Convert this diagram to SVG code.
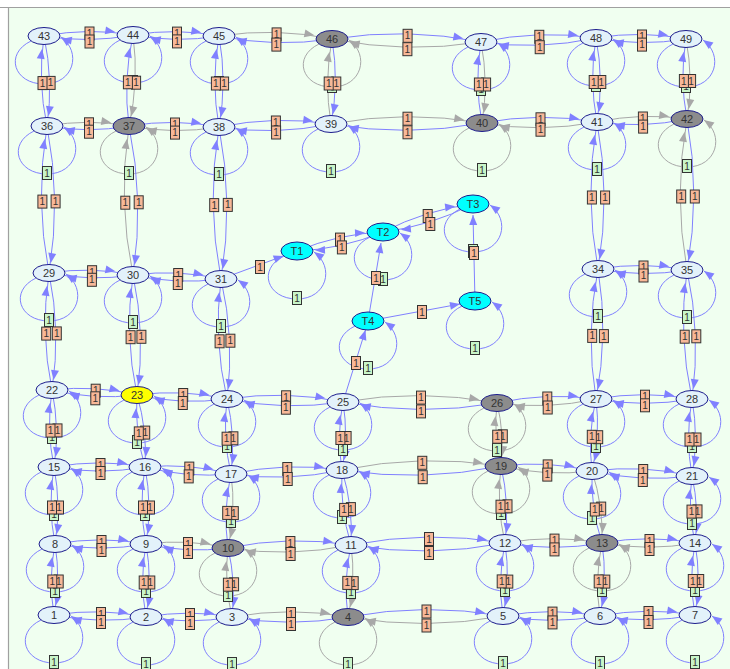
<svg xmlns="http://www.w3.org/2000/svg" width="730" height="669" viewBox="0 0 730 669">
<style>
.e{fill:none;stroke-width:1}
.hb,.db,.ub,.sb{stroke:#8080ff}
.hg,.dg,.ug{stroke:#a8a8a8}
.hb{marker-end:url(#ahb)}.hg{marker-end:url(#ahg)}
.db{marker-end:url(#adb)}.dg{marker-end:url(#adg)}
.ub{marker-end:url(#aub)}.ug{marker-end:url(#aug)}
.sb{marker-end:url(#a0b)}
.lo rect{fill:#f8b898;stroke:#333;stroke-width:1}
.lg rect{fill:#c8f5c8;stroke:#333;stroke-width:1}
.lo text,.lg text{font-family:"Liberation Sans",Arial,sans-serif;font-size:10px;fill:#333;text-anchor:middle}
.nd ellipse{fill:#e3f2fa;stroke:#1c1c8c;stroke-width:1}
.nd.gy ellipse{fill:#8c8c8c}
.nd.yl ellipse{fill:#ffff00}
.nd.cy ellipse{fill:#00ffff}
.nd text{font-family:"Liberation Sans",Arial,sans-serif;font-size:11px;fill:#333;text-anchor:middle}
</style>
<defs>
<marker id="ahb" markerUnits="userSpaceOnUse" markerWidth="10" markerHeight="8" refX="28" refY="4" orient="auto" overflow="visible"><path d="M0,0L10,4L0,8z" fill="#8080ff"/></marker>
<marker id="ahg" markerUnits="userSpaceOnUse" markerWidth="10" markerHeight="8" refX="28" refY="4" orient="auto" overflow="visible"><path d="M0,0L10,4L0,8z" fill="#a8a8a8"/></marker>
<marker id="adb" markerUnits="userSpaceOnUse" markerWidth="10" markerHeight="8" refX="20" refY="4" orient="auto" overflow="visible"><path d="M0,0L10,4L0,8z" fill="#8080ff"/></marker>
<marker id="adg" markerUnits="userSpaceOnUse" markerWidth="10" markerHeight="8" refX="20" refY="4" orient="auto" overflow="visible"><path d="M0,0L10,4L0,8z" fill="#a8a8a8"/></marker>
<marker id="aub" markerUnits="userSpaceOnUse" markerWidth="10" markerHeight="8" refX="23" refY="4" orient="auto" overflow="visible"><path d="M0,0L10,4L0,8z" fill="#8080ff"/></marker>
<marker id="aug" markerUnits="userSpaceOnUse" markerWidth="10" markerHeight="8" refX="23" refY="4" orient="auto" overflow="visible"><path d="M0,0L10,4L0,8z" fill="#a8a8a8"/></marker>
<marker id="a0b" markerUnits="userSpaceOnUse" markerWidth="10" markerHeight="8" refX="10" refY="4" orient="auto" overflow="visible"><path d="M0,0L10,4L0,8z" fill="#8080ff"/></marker>
<marker id="a0g" markerUnits="userSpaceOnUse" markerWidth="10" markerHeight="8" refX="10" refY="4" orient="auto" overflow="visible"><path d="M0,0L10,4L0,8z" fill="#a8a8a8"/></marker>
<path id="lpB" d="M-13,5C-40,18 -30,48 0,48C30,48 38,16 17,1" fill="none" stroke="#8080ff" marker-end="url(#a0b)"/>
<path id="lpG" d="M-13,5C-40,18 -30,48 0,48C30,48 38,16 17,1" fill="none" stroke="#a8a8a8" marker-end="url(#a0g)"/>
</defs>
<rect x="0" y="0" width="730" height="669" fill="#ffffff"/>
<rect x="8" y="7" width="722" height="662" fill="#f0fff0"/>
<path d="M0,7.5H730M8.5,7V669" fill="none" stroke="#a0a0a0" stroke-width="1.2"/>
<g id="connectors">
<g id="loops">
<use href="#lpB" x="54" y="615"/><use href="#lpB" x="146" y="617"/><use href="#lpB" x="232" y="617"/><use href="#lpG" x="348" y="617"/><use href="#lpB" x="503" y="616"/><use href="#lpB" x="600" y="616"/><use href="#lpB" x="695" y="615"/>
<use href="#lpB" x="55" y="544"/><use href="#lpB" x="146" y="544"/><use href="#lpG" x="228" y="548"/><use href="#lpB" x="351" y="545"/><use href="#lpB" x="505" y="543"/><use href="#lpG" x="602" y="543"/><use href="#lpB" x="695" y="543"/>
<use href="#lpB" x="54" y="467"/><use href="#lpB" x="145" y="467"/><use href="#lpB" x="231" y="474"/><use href="#lpB" x="342" y="470"/><use href="#lpG" x="501" y="466"/><use href="#lpB" x="592" y="471"/><use href="#lpB" x="692" y="476"/>
<use href="#lpB" x="52" y="390"/><use href="#lpB" x="137" y="395"/><use href="#lpB" x="227" y="399"/><use href="#lpB" x="343" y="402"/><use href="#lpG" x="497" y="403"/><use href="#lpB" x="596" y="399"/><use href="#lpB" x="692" y="399"/>
<use href="#lpB" x="49" y="273"/><use href="#lpB" x="133" y="275"/><use href="#lpB" x="221" y="279"/><use href="#lpB" x="598" y="269"/><use href="#lpB" x="687" y="270"/>
<use href="#lpB" x="47" y="126"/><use href="#lpG" x="129" y="126"/><use href="#lpB" x="219" y="127"/><use href="#lpB" x="331" y="124"/><use href="#lpG" x="482" y="123"/><use href="#lpB" x="597" y="122"/><use href="#lpG" x="687" y="119"/>
<use href="#lpB" x="44" y="36"/><use href="#lpB" x="133" y="35"/><use href="#lpB" x="219" y="36"/><use href="#lpG" x="332" y="39"/><use href="#lpB" x="481" y="42"/><use href="#lpB" x="596" y="38"/><use href="#lpB" x="686" y="39"/>
<use href="#lpB" x="297" y="251"/><use href="#lpB" x="383" y="232"/><use href="#lpB" x="473" y="204"/><use href="#lpB" x="368" y="321"/><use href="#lpB" x="475" y="301"/>
</g>
<g id="edges">
<path class="e hb" d="M54,615Q100.2,607.7 146,617"/><path class="e hb" d="M146,617Q99.8,624.3 54,615"/>
<path class="e hb" d="M146,617Q189,609.3 232,617"/><path class="e hb" d="M232,617Q189,624.7 146,617"/>
<path class="e hg" d="M232,617Q290,606.6 348,617"/><path class="e hb" d="M348,617Q290,627.4 232,617"/>
<path class="e hb" d="M348,617Q425.4,602.6 503,616"/><path class="e hg" d="M503,616Q425.6,630.5 348,617"/>
<path class="e hb" d="M503,616Q551.5,607.3 600,616"/><path class="e hb" d="M600,616Q551.5,624.7 503,616"/>
<path class="e hb" d="M600,616Q647.4,607 695,615"/><path class="e hb" d="M695,615Q647.6,624 600,616"/>
<path class="e hb" d="M55,544Q100.5,535.8 146,544"/><path class="e hb" d="M146,544Q100.5,552.2 55,544"/>
<path class="e hg" d="M146,544Q187.4,538.6 228,548"/><path class="e hb" d="M228,548Q186.6,553.4 146,544"/>
<path class="e hb" d="M228,548Q289.2,535.4 351,545"/><path class="e hg" d="M351,545Q289.8,557.6 228,548"/>
<path class="e hb" d="M351,545Q427.8,530.1 505,543"/><path class="e hb" d="M505,543Q428.2,557.9 351,545"/>
<path class="e hg" d="M505,543Q553.5,534.3 602,543"/><path class="e hb" d="M602,543Q553.5,551.7 505,543"/>
<path class="e hb" d="M602,543Q648.5,534.6 695,543"/><path class="e hg" d="M695,543Q648.5,551.4 602,543"/>
<path class="e hb" d="M54,467Q99.5,458.8 145,467"/><path class="e hb" d="M145,467Q99.5,475.2 54,467"/>
<path class="e hb" d="M145,467Q188.6,462.8 231,474"/><path class="e hb" d="M231,474Q187.4,478.2 145,467"/>
<path class="e hb" d="M231,474Q286.1,462 342,470"/><path class="e hb" d="M342,470Q286.9,482 231,474"/>
<path class="e hg" d="M342,470Q421.1,453.7 501,466"/><path class="e hb" d="M501,466Q421.9,482.3 342,470"/>
<path class="e hb" d="M501,466Q547,460.3 592,471"/><path class="e hg" d="M592,471Q546,476.7 501,466"/>
<path class="e hb" d="M592,471Q642.5,464.5 692,476"/><path class="e hb" d="M692,476Q641.6,482.5 592,471"/>
<path class="e hb" d="M52,390Q95,384.9 137,395"/><path class="e hb" d="M137,395Q94,400.2 52,390"/>
<path class="e hb" d="M137,395Q182.4,388.9 227,399"/><path class="e hb" d="M227,399Q181.6,405.1 137,395"/>
<path class="e hb" d="M227,399Q285.3,390.1 343,402"/><path class="e hb" d="M343,402Q284.7,410.9 227,399"/>
<path class="e hg" d="M343,402Q420.1,388.6 497,403"/><path class="e hb" d="M497,403Q419.9,416.4 343,402"/>
<path class="e hb" d="M497,403Q546.1,392.1 596,399"/><path class="e hg" d="M596,399Q546.9,409.9 497,403"/>
<path class="e hb" d="M596,399Q644,390.4 692,399"/><path class="e hb" d="M692,399Q644,407.6 596,399"/>
<path class="e hb" d="M49,273Q91.2,266.4 133,275"/><path class="e hb" d="M133,275Q90.8,281.6 49,273"/>
<path class="e hb" d="M133,275Q177.4,269.1 221,279"/><path class="e hb" d="M221,279Q176.6,284.9 133,275"/>
<path class="e hb" d="M598,269Q642.6,261.5 687,270"/><path class="e hb" d="M687,270Q642.4,277.5 598,269"/>
<path class="e hg" d="M47,126Q88,118.6 129,126"/><path class="e hb" d="M129,126Q88,133.4 47,126"/>
<path class="e hb" d="M129,126Q174.1,118.4 219,127"/><path class="e hg" d="M219,127Q173.9,134.6 129,126"/>
<path class="e hb" d="M219,127Q274.7,115.4 331,124"/><path class="e hb" d="M331,124Q275.3,135.6 219,127"/>
<path class="e hg" d="M331,124Q406.4,109.9 482,123"/><path class="e hb" d="M482,123Q406.6,137.1 331,124"/>
<path class="e hb" d="M482,123Q539.4,112.2 597,122"/><path class="e hg" d="M597,122Q539.6,132.9 482,123"/>
<path class="e hg" d="M597,122Q641.7,112.4 687,119"/><path class="e hb" d="M687,119Q642.3,128.6 597,122"/>
<path class="e hb" d="M44,36Q88.4,27.5 133,35"/><path class="e hb" d="M133,35Q88.6,43.5 44,36"/>
<path class="e hb" d="M133,35Q176.1,27.8 219,36"/><path class="e hb" d="M219,36Q175.9,43.2 133,35"/>
<path class="e hg" d="M219,36Q275.8,27.3 332,39"/><path class="e hb" d="M332,39Q275.2,47.7 219,36"/>
<path class="e hb" d="M332,39Q406.8,27.1 481,42"/><path class="e hg" d="M481,42Q406.2,53.9 332,39"/>
<path class="e hb" d="M481,42Q538.1,29.7 596,38"/><path class="e hb" d="M596,38Q538.9,50.4 481,42"/>
<path class="e hb" d="M596,38Q641.1,30.4 686,39"/><path class="e hb" d="M686,39Q640.9,46.6 596,38"/>
<path class="e db" d="M44,36Q53.6,80.7 47,126"/><path class="e ub" d="M47,126Q37.4,81.3 44,36"/>
<path class="e db" d="M47,126Q61.2,199.3 49,273"/><path class="e ub" d="M49,273Q34.8,199.7 47,126"/>
<path class="e db" d="M49,273Q61,331.2 52,390"/><path class="e ub" d="M52,390Q40,331.8 49,273"/>
<path class="e db" d="M52,390Q59.9,428.3 54,467"/><path class="e ub" d="M54,467Q46.1,428.7 52,390"/>
<path class="e db" d="M54,467Q61.4,505.4 55,544"/><path class="e ub" d="M55,544Q47.6,505.6 54,467"/>
<path class="e db" d="M55,544Q60.9,579.6 54,615"/><path class="e ub" d="M54,615Q48.1,579.4 55,544"/>
<path class="e dg" d="M133,35Q139.2,80.9 129,126"/><path class="e ub" d="M129,126Q122.8,80.1 133,35"/>
<path class="e db" d="M129,126Q144.4,200.1 133,275"/><path class="e ug" d="M133,275Q117.6,200.9 129,126"/>
<path class="e db" d="M133,275Q145.8,334.6 137,395"/><path class="e ub" d="M137,395Q124.2,335.4 133,275"/>
<path class="e db" d="M137,395Q147.5,430.3 145,467"/><path class="e ub" d="M145,467Q134.5,431.7 137,395"/>
<path class="e db" d="M145,467Q152.4,505.4 146,544"/><path class="e ub" d="M146,544Q138.6,505.6 145,467"/>
<path class="e db" d="M146,544Q152.6,580.5 146,617"/><path class="e ub" d="M146,617Q139.4,580.5 146,544"/>
<path class="e db" d="M219,36Q227.2,81.5 219,127"/><path class="e ub" d="M219,127Q210.8,81.5 219,36"/>
<path class="e db" d="M219,127Q233.7,202.8 221,279"/><path class="e ub" d="M221,279Q206.3,203.2 219,127"/>
<path class="e db" d="M221,279Q234.8,338.5 227,399"/><path class="e ub" d="M227,399Q213.2,339.5 221,279"/>
<path class="e db" d="M227,399Q235.8,436.1 231,474"/><path class="e ub" d="M231,474Q222.3,436.9 227,399"/>
<path class="e dg" d="M231,474Q236.2,511.3 228,548"/><path class="e ub" d="M228,548Q222.8,510.7 231,474"/>
<path class="e db" d="M228,548Q236.2,582.1 232,617"/><path class="e ug" d="M232,617Q223.8,582.9 228,548"/>
<path class="e db" d="M332,39Q339.2,81.6 331,124"/><path class="e ug" d="M331,124Q323.9,81.4 332,39"/>
<path class="e db" d="M343,402Q348.6,436.1 342,470"/><path class="e ub" d="M342,470Q336.4,435.9 343,402"/>
<path class="e db" d="M342,470Q353.3,506.7 351,545"/><path class="e ub" d="M351,545Q339.8,508.3 342,470"/>
<path class="e dg" d="M351,545Q356,581.3 348,617"/><path class="e ub" d="M348,617Q343,580.7 351,545"/>
<path class="e dg" d="M481,42Q488.8,82.4 482,123"/><path class="e ub" d="M482,123Q474.2,82.6 481,42"/>
<path class="e dg" d="M497,403Q504.7,434.1 501,466"/><path class="e ug" d="M501,466Q493.3,434.9 497,403"/>
<path class="e db" d="M501,466Q509.9,504.1 505,543"/><path class="e ug" d="M505,543Q496.1,504.9 501,466"/>
<path class="e db" d="M505,543Q510.6,579.7 503,616"/><path class="e ub" d="M503,616Q497.4,579.3 505,543"/>
<path class="e db" d="M596,38Q604.1,79.9 597,122"/><path class="e ub" d="M597,122Q588.9,80.1 596,38"/>
<path class="e db" d="M597,122Q610.7,195.4 598,269"/><path class="e ub" d="M598,269Q584.3,195.6 597,122"/>
<path class="e db" d="M598,269Q608.7,334.2 596,399"/><path class="e ub" d="M596,399Q585.3,333.8 598,269"/>
<path class="e db" d="M596,399Q600.5,435.4 592,471"/><path class="e ub" d="M592,471Q587.5,434.6 596,399"/>
<path class="e dg" d="M592,471Q603.5,506.1 602,543"/><path class="e ub" d="M602,543Q590.5,507.9 592,471"/>
<path class="e db" d="M602,543Q607.6,579.7 600,616"/><path class="e ug" d="M600,616Q594.4,579.3 602,543"/>
<path class="e dg" d="M686,39Q693.7,78.9 687,119"/><path class="e ub" d="M687,119Q679.3,79.1 686,39"/>
<path class="e db" d="M687,119Q700.6,194.5 687,270"/><path class="e ug" d="M687,270Q673.4,194.5 687,119"/>
<path class="e db" d="M687,270Q701.1,334.1 692,399"/><path class="e ub" d="M692,399Q677.9,335 687,270"/>
<path class="e db" d="M692,399Q698.9,437.5 692,476"/><path class="e ub" d="M692,476Q685.1,437.5 692,399"/>
<path class="e db" d="M692,476Q699.5,509.2 695,543"/><path class="e ub" d="M695,543Q687.5,509.8 692,476"/>
<path class="e db" d="M695,543Q701.5,579 695,615"/><path class="e ub" d="M695,615Q688.5,579 695,543"/>
<path class="e sb" d="M221,279L283.6,255.9"/>
<path class="e hb" d="M297,251Q338.3,233.8 383,232"/><path class="e hb" d="M383,232Q341.7,249.2 297,251"/>
<path class="e hb" d="M383,232Q425.5,209.9 473,204"/><path class="e hb" d="M473,204Q430.5,226.1 383,232"/>
<path class="e sb" d="M475,301L473,215"/>
<path class="e sb" d="M368,321L381,243"/>
<path class="e sb" d="M368,321L460,304"/>
<path class="e sb" d="M343,402L365.5,330"/>
</g>
</g>
<g id="labels">
<g class="lg" transform="translate(54,662)"><rect x="-4.5" y="-6.5" width="9" height="13"/><text y="3.5">1</text></g>
<g class="lg" transform="translate(146,664)"><rect x="-4.5" y="-6.5" width="9" height="13"/><text y="3.5">1</text></g>
<g class="lg" transform="translate(232,664)"><rect x="-4.5" y="-6.5" width="9" height="13"/><text y="3.5">1</text></g>
<g class="lg" transform="translate(348,664)"><rect x="-4.5" y="-6.5" width="9" height="13"/><text y="3.5">1</text></g>
<g class="lg" transform="translate(503,663)"><rect x="-4.5" y="-6.5" width="9" height="13"/><text y="3.5">1</text></g>
<g class="lg" transform="translate(600,663)"><rect x="-4.5" y="-6.5" width="9" height="13"/><text y="3.5">1</text></g>
<g class="lg" transform="translate(695,662)"><rect x="-4.5" y="-6.5" width="9" height="13"/><text y="3.5">1</text></g>
<g class="lg" transform="translate(55,591)"><rect x="-4.5" y="-6.5" width="9" height="13"/><text y="3.5">1</text></g>
<g class="lg" transform="translate(146,591)"><rect x="-4.5" y="-6.5" width="9" height="13"/><text y="3.5">1</text></g>
<g class="lg" transform="translate(228,595)"><rect x="-4.5" y="-6.5" width="9" height="13"/><text y="3.5">1</text></g>
<g class="lg" transform="translate(351,592)"><rect x="-4.5" y="-6.5" width="9" height="13"/><text y="3.5">1</text></g>
<g class="lg" transform="translate(505,590)"><rect x="-4.5" y="-6.5" width="9" height="13"/><text y="3.5">1</text></g>
<g class="lg" transform="translate(602,590)"><rect x="-4.5" y="-6.5" width="9" height="13"/><text y="3.5">1</text></g>
<g class="lg" transform="translate(695,590)"><rect x="-4.5" y="-6.5" width="9" height="13"/><text y="3.5">1</text></g>
<g class="lg" transform="translate(54,514)"><rect x="-4.5" y="-6.5" width="9" height="13"/><text y="3.5">1</text></g>
<g class="lg" transform="translate(145,514)"><rect x="-4.5" y="-6.5" width="9" height="13"/><text y="3.5">1</text></g>
<g class="lg" transform="translate(231,521)"><rect x="-4.5" y="-6.5" width="9" height="13"/><text y="3.5">1</text></g>
<g class="lg" transform="translate(342,517)"><rect x="-4.5" y="-6.5" width="9" height="13"/><text y="3.5">1</text></g>
<g class="lg" transform="translate(501,513)"><rect x="-4.5" y="-6.5" width="9" height="13"/><text y="3.5">1</text></g>
<g class="lg" transform="translate(592,518)"><rect x="-4.5" y="-6.5" width="9" height="13"/><text y="3.5">1</text></g>
<g class="lg" transform="translate(692,523)"><rect x="-4.5" y="-6.5" width="9" height="13"/><text y="3.5">1</text></g>
<g class="lg" transform="translate(52,437)"><rect x="-4.5" y="-6.5" width="9" height="13"/><text y="3.5">1</text></g>
<g class="lg" transform="translate(137,442)"><rect x="-4.5" y="-6.5" width="9" height="13"/><text y="3.5">1</text></g>
<g class="lg" transform="translate(227,446)"><rect x="-4.5" y="-6.5" width="9" height="13"/><text y="3.5">1</text></g>
<g class="lg" transform="translate(343,449)"><rect x="-4.5" y="-6.5" width="9" height="13"/><text y="3.5">1</text></g>
<g class="lg" transform="translate(497,450)"><rect x="-4.5" y="-6.5" width="9" height="13"/><text y="3.5">1</text></g>
<g class="lg" transform="translate(596,446)"><rect x="-4.5" y="-6.5" width="9" height="13"/><text y="3.5">1</text></g>
<g class="lg" transform="translate(692,446)"><rect x="-4.5" y="-6.5" width="9" height="13"/><text y="3.5">1</text></g>
<g class="lg" transform="translate(49,320)"><rect x="-4.5" y="-6.5" width="9" height="13"/><text y="3.5">1</text></g>
<g class="lg" transform="translate(133,322)"><rect x="-4.5" y="-6.5" width="9" height="13"/><text y="3.5">1</text></g>
<g class="lg" transform="translate(221,326)"><rect x="-4.5" y="-6.5" width="9" height="13"/><text y="3.5">1</text></g>
<g class="lg" transform="translate(598,316)"><rect x="-4.5" y="-6.5" width="9" height="13"/><text y="3.5">1</text></g>
<g class="lg" transform="translate(687,317)"><rect x="-4.5" y="-6.5" width="9" height="13"/><text y="3.5">1</text></g>
<g class="lg" transform="translate(47,173)"><rect x="-4.5" y="-6.5" width="9" height="13"/><text y="3.5">1</text></g>
<g class="lg" transform="translate(129,173)"><rect x="-4.5" y="-6.5" width="9" height="13"/><text y="3.5">1</text></g>
<g class="lg" transform="translate(219,174)"><rect x="-4.5" y="-6.5" width="9" height="13"/><text y="3.5">1</text></g>
<g class="lg" transform="translate(331,171)"><rect x="-4.5" y="-6.5" width="9" height="13"/><text y="3.5">1</text></g>
<g class="lg" transform="translate(482,170)"><rect x="-4.5" y="-6.5" width="9" height="13"/><text y="3.5">1</text></g>
<g class="lg" transform="translate(597,169)"><rect x="-4.5" y="-6.5" width="9" height="13"/><text y="3.5">1</text></g>
<g class="lg" transform="translate(687,166)"><rect x="-4.5" y="-6.5" width="9" height="13"/><text y="3.5">1</text></g>
<g class="lg" transform="translate(44,83)"><rect x="-4.5" y="-6.5" width="9" height="13"/><text y="3.5">1</text></g>
<g class="lg" transform="translate(133,82)"><rect x="-4.5" y="-6.5" width="9" height="13"/><text y="3.5">1</text></g>
<g class="lg" transform="translate(219,83)"><rect x="-4.5" y="-6.5" width="9" height="13"/><text y="3.5">1</text></g>
<g class="lg" transform="translate(332,86)"><rect x="-4.5" y="-6.5" width="9" height="13"/><text y="3.5">1</text></g>
<g class="lg" transform="translate(481,89)"><rect x="-4.5" y="-6.5" width="9" height="13"/><text y="3.5">1</text></g>
<g class="lg" transform="translate(596,85)"><rect x="-4.5" y="-6.5" width="9" height="13"/><text y="3.5">1</text></g>
<g class="lg" transform="translate(686,86)"><rect x="-4.5" y="-6.5" width="9" height="13"/><text y="3.5">1</text></g>
<g class="lg" transform="translate(297,298)"><rect x="-4.5" y="-6.5" width="9" height="13"/><text y="3.5">1</text></g>
<g class="lg" transform="translate(383,279)"><rect x="-4.5" y="-6.5" width="9" height="13"/><text y="3.5">1</text></g>
<g class="lg" transform="translate(473,251)"><rect x="-4.5" y="-6.5" width="9" height="13"/><text y="3.5">1</text></g>
<g class="lg" transform="translate(368,368)"><rect x="-4.5" y="-6.5" width="9" height="13"/><text y="3.5">1</text></g>
<g class="lg" transform="translate(475,348)"><rect x="-4.5" y="-6.5" width="9" height="13"/><text y="3.5">1</text></g>
<g class="lo" transform="translate(101,614)"><rect x="-4.5" y="-6.5" width="9" height="13"/><text y="3.5">1</text></g>
<g class="lo" transform="translate(101,622)"><rect x="-4.5" y="-6.5" width="9" height="13"/><text y="3.5">1</text></g>
<g class="lo" transform="translate(190,615)"><rect x="-4.5" y="-6.5" width="9" height="13"/><text y="3.5">1</text></g>
<g class="lo" transform="translate(190,623)"><rect x="-4.5" y="-6.5" width="9" height="13"/><text y="3.5">1</text></g>
<g class="lo" transform="translate(291,614)"><rect x="-4.5" y="-6.5" width="9" height="13"/><text y="3.5">1</text></g>
<g class="lo" transform="translate(291,624)"><rect x="-4.5" y="-6.5" width="9" height="13"/><text y="3.5">1</text></g>
<g class="lo" transform="translate(426.5,611.5)"><rect x="-4.5" y="-6.5" width="9" height="13"/><text y="3.5">1</text></g>
<g class="lo" transform="translate(426.5,625.5)"><rect x="-4.5" y="-6.5" width="9" height="13"/><text y="3.5">1</text></g>
<g class="lo" transform="translate(552.5,613.6)"><rect x="-4.5" y="-6.5" width="9" height="13"/><text y="3.5">1</text></g>
<g class="lo" transform="translate(552.5,622.4)"><rect x="-4.5" y="-6.5" width="9" height="13"/><text y="3.5">1</text></g>
<g class="lo" transform="translate(648.5,613)"><rect x="-4.5" y="-6.5" width="9" height="13"/><text y="3.5">1</text></g>
<g class="lo" transform="translate(648.5,622)"><rect x="-4.5" y="-6.5" width="9" height="13"/><text y="3.5">1</text></g>
<g class="lo" transform="translate(101.5,542)"><rect x="-4.5" y="-6.5" width="9" height="13"/><text y="3.5">1</text></g>
<g class="lo" transform="translate(101.5,550)"><rect x="-4.5" y="-6.5" width="9" height="13"/><text y="3.5">1</text></g>
<g class="lo" transform="translate(188,544)"><rect x="-4.5" y="-6.5" width="9" height="13"/><text y="3.5">1</text></g>
<g class="lo" transform="translate(188,552)"><rect x="-4.5" y="-6.5" width="9" height="13"/><text y="3.5">1</text></g>
<g class="lo" transform="translate(290.4,543)"><rect x="-4.5" y="-6.5" width="9" height="13"/><text y="3.5">1</text></g>
<g class="lo" transform="translate(290.6,554)"><rect x="-4.5" y="-6.5" width="9" height="13"/><text y="3.5">1</text></g>
<g class="lo" transform="translate(429,539)"><rect x="-4.5" y="-6.5" width="9" height="13"/><text y="3.5">1</text></g>
<g class="lo" transform="translate(429,553)"><rect x="-4.5" y="-6.5" width="9" height="13"/><text y="3.5">1</text></g>
<g class="lo" transform="translate(554.5,540.6)"><rect x="-4.5" y="-6.5" width="9" height="13"/><text y="3.5">1</text></g>
<g class="lo" transform="translate(554.5,549.4)"><rect x="-4.5" y="-6.5" width="9" height="13"/><text y="3.5">1</text></g>
<g class="lo" transform="translate(649.5,541)"><rect x="-4.5" y="-6.5" width="9" height="13"/><text y="3.5">1</text></g>
<g class="lo" transform="translate(649.5,549)"><rect x="-4.5" y="-6.5" width="9" height="13"/><text y="3.5">1</text></g>
<g class="lo" transform="translate(100.5,465)"><rect x="-4.5" y="-6.5" width="9" height="13"/><text y="3.5">1</text></g>
<g class="lo" transform="translate(100.5,473)"><rect x="-4.5" y="-6.5" width="9" height="13"/><text y="3.5">1</text></g>
<g class="lo" transform="translate(189.3,468.6)"><rect x="-4.5" y="-6.5" width="9" height="13"/><text y="3.5">1</text></g>
<g class="lo" transform="translate(188.7,476.4)"><rect x="-4.5" y="-6.5" width="9" height="13"/><text y="3.5">1</text></g>
<g class="lo" transform="translate(287.3,469)"><rect x="-4.5" y="-6.5" width="9" height="13"/><text y="3.5">1</text></g>
<g class="lo" transform="translate(287.7,479)"><rect x="-4.5" y="-6.5" width="9" height="13"/><text y="3.5">1</text></g>
<g class="lo" transform="translate(422.3,462.8)"><rect x="-4.5" y="-6.5" width="9" height="13"/><text y="3.5">1</text></g>
<g class="lo" transform="translate(422.7,477.2)"><rect x="-4.5" y="-6.5" width="9" height="13"/><text y="3.5">1</text></g>
<g class="lo" transform="translate(547.7,466.4)"><rect x="-4.5" y="-6.5" width="9" height="13"/><text y="3.5">1</text></g>
<g class="lo" transform="translate(547.3,474.6)"><rect x="-4.5" y="-6.5" width="9" height="13"/><text y="3.5">1</text></g>
<g class="lo" transform="translate(643.2,471)"><rect x="-4.5" y="-6.5" width="9" height="13"/><text y="3.5">1</text></g>
<g class="lo" transform="translate(642.8,480)"><rect x="-4.5" y="-6.5" width="9" height="13"/><text y="3.5">1</text></g>
<g class="lo" transform="translate(95.7,390.7)"><rect x="-4.5" y="-6.5" width="9" height="13"/><text y="3.5">1</text></g>
<g class="lo" transform="translate(95.3,398.3)"><rect x="-4.5" y="-6.5" width="9" height="13"/><text y="3.5">1</text></g>
<g class="lo" transform="translate(183.2,395)"><rect x="-4.5" y="-6.5" width="9" height="13"/><text y="3.5">1</text></g>
<g class="lo" transform="translate(182.8,403)"><rect x="-4.5" y="-6.5" width="9" height="13"/><text y="3.5">1</text></g>
<g class="lo" transform="translate(286.1,397.3)"><rect x="-4.5" y="-6.5" width="9" height="13"/><text y="3.5">1</text></g>
<g class="lo" transform="translate(285.9,407.7)"><rect x="-4.5" y="-6.5" width="9" height="13"/><text y="3.5">1</text></g>
<g class="lo" transform="translate(421,397.6)"><rect x="-4.5" y="-6.5" width="9" height="13"/><text y="3.5">1</text></g>
<g class="lo" transform="translate(421,411.4)"><rect x="-4.5" y="-6.5" width="9" height="13"/><text y="3.5">1</text></g>
<g class="lo" transform="translate(547.3,398.5)"><rect x="-4.5" y="-6.5" width="9" height="13"/><text y="3.5">1</text></g>
<g class="lo" transform="translate(547.7,407.5)"><rect x="-4.5" y="-6.5" width="9" height="13"/><text y="3.5">1</text></g>
<g class="lo" transform="translate(645,396.7)"><rect x="-4.5" y="-6.5" width="9" height="13"/><text y="3.5">1</text></g>
<g class="lo" transform="translate(645,405.3)"><rect x="-4.5" y="-6.5" width="9" height="13"/><text y="3.5">1</text></g>
<g class="lo" transform="translate(92.1,272.2)"><rect x="-4.5" y="-6.5" width="9" height="13"/><text y="3.5">1</text></g>
<g class="lo" transform="translate(91.9,279.8)"><rect x="-4.5" y="-6.5" width="9" height="13"/><text y="3.5">1</text></g>
<g class="lo" transform="translate(178.2,275)"><rect x="-4.5" y="-6.5" width="9" height="13"/><text y="3.5">1</text></g>
<g class="lo" transform="translate(177.8,283)"><rect x="-4.5" y="-6.5" width="9" height="13"/><text y="3.5">1</text></g>
<g class="lo" transform="translate(643.5,267.5)"><rect x="-4.5" y="-6.5" width="9" height="13"/><text y="3.5">1</text></g>
<g class="lo" transform="translate(643.5,275.5)"><rect x="-4.5" y="-6.5" width="9" height="13"/><text y="3.5">1</text></g>
<g class="lo" transform="translate(89,124.3)"><rect x="-4.5" y="-6.5" width="9" height="13"/><text y="3.5">1</text></g>
<g class="lo" transform="translate(89,131.7)"><rect x="-4.5" y="-6.5" width="9" height="13"/><text y="3.5">1</text></g>
<g class="lo" transform="translate(175,124.5)"><rect x="-4.5" y="-6.5" width="9" height="13"/><text y="3.5">1</text></g>
<g class="lo" transform="translate(175,132.6)"><rect x="-4.5" y="-6.5" width="9" height="13"/><text y="3.5">1</text></g>
<g class="lo" transform="translate(275.9,122.5)"><rect x="-4.5" y="-6.5" width="9" height="13"/><text y="3.5">1</text></g>
<g class="lo" transform="translate(276.1,132.5)"><rect x="-4.5" y="-6.5" width="9" height="13"/><text y="3.5">1</text></g>
<g class="lo" transform="translate(407.5,118.7)"><rect x="-4.5" y="-6.5" width="9" height="13"/><text y="3.5">1</text></g>
<g class="lo" transform="translate(407.5,132.3)"><rect x="-4.5" y="-6.5" width="9" height="13"/><text y="3.5">1</text></g>
<g class="lo" transform="translate(540.5,119.3)"><rect x="-4.5" y="-6.5" width="9" height="13"/><text y="3.5">1</text></g>
<g class="lo" transform="translate(540.5,129.7)"><rect x="-4.5" y="-6.5" width="9" height="13"/><text y="3.5">1</text></g>
<g class="lo" transform="translate(642.9,118.5)"><rect x="-4.5" y="-6.5" width="9" height="13"/><text y="3.5">1</text></g>
<g class="lo" transform="translate(643.1,126.6)"><rect x="-4.5" y="-6.5" width="9" height="13"/><text y="3.5">1</text></g>
<g class="lo" transform="translate(89.5,33.5)"><rect x="-4.5" y="-6.5" width="9" height="13"/><text y="3.5">1</text></g>
<g class="lo" transform="translate(89.5,41.5)"><rect x="-4.5" y="-6.5" width="9" height="13"/><text y="3.5">1</text></g>
<g class="lo" transform="translate(177,33.6)"><rect x="-4.5" y="-6.5" width="9" height="13"/><text y="3.5">1</text></g>
<g class="lo" transform="translate(177,41.4)"><rect x="-4.5" y="-6.5" width="9" height="13"/><text y="3.5">1</text></g>
<g class="lo" transform="translate(276.6,34.4)"><rect x="-4.5" y="-6.5" width="9" height="13"/><text y="3.5">1</text></g>
<g class="lo" transform="translate(276.4,44.6)"><rect x="-4.5" y="-6.5" width="9" height="13"/><text y="3.5">1</text></g>
<g class="lo" transform="translate(407.6,35.8)"><rect x="-4.5" y="-6.5" width="9" height="13"/><text y="3.5">1</text></g>
<g class="lo" transform="translate(407.4,49.2)"><rect x="-4.5" y="-6.5" width="9" height="13"/><text y="3.5">1</text></g>
<g class="lo" transform="translate(539.3,36.8)"><rect x="-4.5" y="-6.5" width="9" height="13"/><text y="3.5">1</text></g>
<g class="lo" transform="translate(539.7,47.2)"><rect x="-4.5" y="-6.5" width="9" height="13"/><text y="3.5">1</text></g>
<g class="lo" transform="translate(642,36.5)"><rect x="-4.5" y="-6.5" width="9" height="13"/><text y="3.5">1</text></g>
<g class="lo" transform="translate(642,44.6)"><rect x="-4.5" y="-6.5" width="9" height="13"/><text y="3.5">1</text></g>
<g class="lo" transform="translate(50.6,82.9)"><rect x="-4.5" y="-6.5" width="9" height="13"/><text y="3.5">1</text></g>
<g class="lo" transform="translate(42.5,83.1)"><rect x="-4.5" y="-6.5" width="9" height="13"/><text y="3.5">1</text></g>
<g class="lo" transform="translate(55.6,201.4)"><rect x="-4.5" y="-6.5" width="9" height="13"/><text y="3.5">1</text></g>
<g class="lo" transform="translate(42.4,201.6)"><rect x="-4.5" y="-6.5" width="9" height="13"/><text y="3.5">1</text></g>
<g class="lo" transform="translate(56.8,333.4)"><rect x="-4.5" y="-6.5" width="9" height="13"/><text y="3.5">1</text></g>
<g class="lo" transform="translate(46.2,333.6)"><rect x="-4.5" y="-6.5" width="9" height="13"/><text y="3.5">1</text></g>
<g class="lo" transform="translate(57.5,430.4)"><rect x="-4.5" y="-6.5" width="9" height="13"/><text y="3.5">1</text></g>
<g class="lo" transform="translate(50.5,430.6)"><rect x="-4.5" y="-6.5" width="9" height="13"/><text y="3.5">1</text></g>
<g class="lo" transform="translate(59,507.5)"><rect x="-4.5" y="-6.5" width="9" height="13"/><text y="3.5">1</text></g>
<g class="lo" transform="translate(52,507.5)"><rect x="-4.5" y="-6.5" width="9" height="13"/><text y="3.5">1</text></g>
<g class="lo" transform="translate(58.7,581.5)"><rect x="-4.5" y="-6.5" width="9" height="13"/><text y="3.5">1</text></g>
<g class="lo" transform="translate(52.3,581.5)"><rect x="-4.5" y="-6.5" width="9" height="13"/><text y="3.5">1</text></g>
<g class="lo" transform="translate(136.1,82.7)"><rect x="-4.5" y="-6.5" width="9" height="13"/><text y="3.5">1</text></g>
<g class="lo" transform="translate(127.9,82.3)"><rect x="-4.5" y="-6.5" width="9" height="13"/><text y="3.5">1</text></g>
<g class="lo" transform="translate(138.7,202.3)"><rect x="-4.5" y="-6.5" width="9" height="13"/><text y="3.5">1</text></g>
<g class="lo" transform="translate(125.3,202.7)"><rect x="-4.5" y="-6.5" width="9" height="13"/><text y="3.5">1</text></g>
<g class="lo" transform="translate(141.4,336.8)"><rect x="-4.5" y="-6.5" width="9" height="13"/><text y="3.5">1</text></g>
<g class="lo" transform="translate(130.6,337.2)"><rect x="-4.5" y="-6.5" width="9" height="13"/><text y="3.5">1</text></g>
<g class="lo" transform="translate(145.2,432.6)"><rect x="-4.5" y="-6.5" width="9" height="13"/><text y="3.5">1</text></g>
<g class="lo" transform="translate(138.8,433.4)"><rect x="-4.5" y="-6.5" width="9" height="13"/><text y="3.5">1</text></g>
<g class="lo" transform="translate(150,507.5)"><rect x="-4.5" y="-6.5" width="9" height="13"/><text y="3.5">1</text></g>
<g class="lo" transform="translate(143,507.5)"><rect x="-4.5" y="-6.5" width="9" height="13"/><text y="3.5">1</text></g>
<g class="lo" transform="translate(150.3,582.5)"><rect x="-4.5" y="-6.5" width="9" height="13"/><text y="3.5">1</text></g>
<g class="lo" transform="translate(143.7,582.5)"><rect x="-4.5" y="-6.5" width="9" height="13"/><text y="3.5">1</text></g>
<g class="lo" transform="translate(224.1,83.5)"><rect x="-4.5" y="-6.5" width="9" height="13"/><text y="3.5">1</text></g>
<g class="lo" transform="translate(215.9,83.5)"><rect x="-4.5" y="-6.5" width="9" height="13"/><text y="3.5">1</text></g>
<g class="lo" transform="translate(227.8,204.9)"><rect x="-4.5" y="-6.5" width="9" height="13"/><text y="3.5">1</text></g>
<g class="lo" transform="translate(214.2,205.1)"><rect x="-4.5" y="-6.5" width="9" height="13"/><text y="3.5">1</text></g>
<g class="lo" transform="translate(230.4,340.7)"><rect x="-4.5" y="-6.5" width="9" height="13"/><text y="3.5">1</text></g>
<g class="lo" transform="translate(219.6,341.3)"><rect x="-4.5" y="-6.5" width="9" height="13"/><text y="3.5">1</text></g>
<g class="lo" transform="translate(233.4,438.3)"><rect x="-4.5" y="-6.5" width="9" height="13"/><text y="3.5">1</text></g>
<g class="lo" transform="translate(226.6,438.7)"><rect x="-4.5" y="-6.5" width="9" height="13"/><text y="3.5">1</text></g>
<g class="lo" transform="translate(233.8,513.1)"><rect x="-4.5" y="-6.5" width="9" height="13"/><text y="3.5">1</text></g>
<g class="lo" transform="translate(227.2,512.9)"><rect x="-4.5" y="-6.5" width="9" height="13"/><text y="3.5">1</text></g>
<g class="lo" transform="translate(234.1,584.3)"><rect x="-4.5" y="-6.5" width="9" height="13"/><text y="3.5">1</text></g>
<g class="lo" transform="translate(227.9,584.7)"><rect x="-4.5" y="-6.5" width="9" height="13"/><text y="3.5">1</text></g>
<g class="lo" transform="translate(336.3,83.5)"><rect x="-4.5" y="-6.5" width="9" height="13"/><text y="3.5">1</text></g>
<g class="lo" transform="translate(328.7,83.5)"><rect x="-4.5" y="-6.5" width="9" height="13"/><text y="3.5">1</text></g>
<g class="lo" transform="translate(346.6,438)"><rect x="-4.5" y="-6.5" width="9" height="13"/><text y="3.5">1</text></g>
<g class="lo" transform="translate(340.4,438)"><rect x="-4.5" y="-6.5" width="9" height="13"/><text y="3.5">1</text></g>
<g class="lo" transform="translate(350.9,509.1)"><rect x="-4.5" y="-6.5" width="9" height="13"/><text y="3.5">1</text></g>
<g class="lo" transform="translate(344.1,509.9)"><rect x="-4.5" y="-6.5" width="9" height="13"/><text y="3.5">1</text></g>
<g class="lo" transform="translate(353.7,583.1)"><rect x="-4.5" y="-6.5" width="9" height="13"/><text y="3.5">1</text></g>
<g class="lo" transform="translate(347.3,582.9)"><rect x="-4.5" y="-6.5" width="9" height="13"/><text y="3.5">1</text></g>
<g class="lo" transform="translate(486.1,84.5)"><rect x="-4.5" y="-6.5" width="9" height="13"/><text y="3.5">1</text></g>
<g class="lo" transform="translate(478.9,84.5)"><rect x="-4.5" y="-6.5" width="9" height="13"/><text y="3.5">1</text></g>
<g class="lo" transform="translate(502.8,436.3)"><rect x="-4.5" y="-6.5" width="9" height="13"/><text y="3.5">1</text></g>
<g class="lo" transform="translate(497.2,436.7)"><rect x="-4.5" y="-6.5" width="9" height="13"/><text y="3.5">1</text></g>
<g class="lo" transform="translate(507.5,506.3)"><rect x="-4.5" y="-6.5" width="9" height="13"/><text y="3.5">1</text></g>
<g class="lo" transform="translate(500.5,506.7)"><rect x="-4.5" y="-6.5" width="9" height="13"/><text y="3.5">1</text></g>
<g class="lo" transform="translate(508.3,581.6)"><rect x="-4.5" y="-6.5" width="9" height="13"/><text y="3.5">1</text></g>
<g class="lo" transform="translate(501.7,581.4)"><rect x="-4.5" y="-6.5" width="9" height="13"/><text y="3.5">1</text></g>
<g class="lo" transform="translate(601.3,82)"><rect x="-4.5" y="-6.5" width="9" height="13"/><text y="3.5">1</text></g>
<g class="lo" transform="translate(593.7,82)"><rect x="-4.5" y="-6.5" width="9" height="13"/><text y="3.5">1</text></g>
<g class="lo" transform="translate(605.1,197.5)"><rect x="-4.5" y="-6.5" width="9" height="13"/><text y="3.5">1</text></g>
<g class="lo" transform="translate(591.9,197.5)"><rect x="-4.5" y="-6.5" width="9" height="13"/><text y="3.5">1</text></g>
<g class="lo" transform="translate(603.9,336.1)"><rect x="-4.5" y="-6.5" width="9" height="13"/><text y="3.5">1</text></g>
<g class="lo" transform="translate(592.2,335.9)"><rect x="-4.5" y="-6.5" width="9" height="13"/><text y="3.5">1</text></g>
<g class="lo" transform="translate(598.2,437.2)"><rect x="-4.5" y="-6.5" width="9" height="13"/><text y="3.5">1</text></g>
<g class="lo" transform="translate(591.8,436.8)"><rect x="-4.5" y="-6.5" width="9" height="13"/><text y="3.5">1</text></g>
<g class="lo" transform="translate(601.2,508.6)"><rect x="-4.5" y="-6.5" width="9" height="13"/><text y="3.5">1</text></g>
<g class="lo" transform="translate(594.8,509.5)"><rect x="-4.5" y="-6.5" width="9" height="13"/><text y="3.5">1</text></g>
<g class="lo" transform="translate(605.3,581.6)"><rect x="-4.5" y="-6.5" width="9" height="13"/><text y="3.5">1</text></g>
<g class="lo" transform="translate(598.7,581.4)"><rect x="-4.5" y="-6.5" width="9" height="13"/><text y="3.5">1</text></g>
<g class="lo" transform="translate(691.1,81)"><rect x="-4.5" y="-6.5" width="9" height="13"/><text y="3.5">1</text></g>
<g class="lo" transform="translate(683.9,81)"><rect x="-4.5" y="-6.5" width="9" height="13"/><text y="3.5">1</text></g>
<g class="lo" transform="translate(694.8,196.5)"><rect x="-4.5" y="-6.5" width="9" height="13"/><text y="3.5">1</text></g>
<g class="lo" transform="translate(681.2,196.5)"><rect x="-4.5" y="-6.5" width="9" height="13"/><text y="3.5">1</text></g>
<g class="lo" transform="translate(696.3,336.3)"><rect x="-4.5" y="-6.5" width="9" height="13"/><text y="3.5">1</text></g>
<g class="lo" transform="translate(684.7,336.7)"><rect x="-4.5" y="-6.5" width="9" height="13"/><text y="3.5">1</text></g>
<g class="lo" transform="translate(696.5,439.5)"><rect x="-4.5" y="-6.5" width="9" height="13"/><text y="3.5">1</text></g>
<g class="lo" transform="translate(689.5,439.5)"><rect x="-4.5" y="-6.5" width="9" height="13"/><text y="3.5">1</text></g>
<g class="lo" transform="translate(697.5,511.4)"><rect x="-4.5" y="-6.5" width="9" height="13"/><text y="3.5">1</text></g>
<g class="lo" transform="translate(691.5,511.6)"><rect x="-4.5" y="-6.5" width="9" height="13"/><text y="3.5">1</text></g>
<g class="lo" transform="translate(699.2,581)"><rect x="-4.5" y="-6.5" width="9" height="13"/><text y="3.5">1</text></g>
<g class="lo" transform="translate(692.8,581)"><rect x="-4.5" y="-6.5" width="9" height="13"/><text y="3.5">1</text></g>
<g class="lo" transform="translate(260,267)"><rect x="-4.5" y="-6.5" width="9" height="13"/><text y="3.5">1</text></g>
<g class="lo" transform="translate(340,239.6)"><rect x="-4.5" y="-6.5" width="9" height="13"/><text y="3.5">1</text></g>
<g class="lo" transform="translate(341.9,247.4)"><rect x="-4.5" y="-6.5" width="9" height="13"/><text y="3.5">1</text></g>
<g class="lo" transform="translate(427.7,216)"><rect x="-4.5" y="-6.5" width="9" height="13"/><text y="3.5">1</text></g>
<g class="lo" transform="translate(430.3,224)"><rect x="-4.5" y="-6.5" width="9" height="13"/><text y="3.5">1</text></g>
<g class="lo" transform="translate(474,253)"><rect x="-4.5" y="-6.5" width="9" height="13"/><text y="3.5">1</text></g>
<g class="lo" transform="translate(376,278)"><rect x="-4.5" y="-6.5" width="9" height="13"/><text y="3.5">1</text></g>
<g class="lo" transform="translate(422,312)"><rect x="-4.5" y="-6.5" width="9" height="13"/><text y="3.5">1</text></g>
<g class="lo" transform="translate(356,363)"><rect x="-4.5" y="-6.5" width="9" height="13"/><text y="3.5">1</text></g>
</g>
<g id="nodes">
<g id="n1" class="nd"><ellipse cx="54" cy="615" rx="16" ry="8.5"/><text x="54" y="619">1</text></g>
<g id="n2" class="nd"><ellipse cx="146" cy="617" rx="16" ry="8.5"/><text x="146" y="621">2</text></g>
<g id="n3" class="nd"><ellipse cx="232" cy="617" rx="16" ry="8.5"/><text x="232" y="621">3</text></g>
<g id="n4" class="nd gy"><ellipse cx="348" cy="617" rx="16" ry="8.5"/><text x="348" y="621">4</text></g>
<g id="n5" class="nd"><ellipse cx="503" cy="616" rx="16" ry="8.5"/><text x="503" y="620">5</text></g>
<g id="n6" class="nd"><ellipse cx="600" cy="616" rx="16" ry="8.5"/><text x="600" y="620">6</text></g>
<g id="n7" class="nd"><ellipse cx="695" cy="615" rx="16" ry="8.5"/><text x="695" y="619">7</text></g>
<g id="n8" class="nd"><ellipse cx="55" cy="544" rx="16" ry="8.5"/><text x="55" y="548">8</text></g>
<g id="n9" class="nd"><ellipse cx="146" cy="544" rx="16" ry="8.5"/><text x="146" y="548">9</text></g>
<g id="n10" class="nd gy"><ellipse cx="228" cy="548" rx="16" ry="8.5"/><text x="228" y="552">10</text></g>
<g id="n11" class="nd"><ellipse cx="351" cy="545" rx="16" ry="8.5"/><text x="351" y="549">11</text></g>
<g id="n12" class="nd"><ellipse cx="505" cy="543" rx="16" ry="8.5"/><text x="505" y="547">12</text></g>
<g id="n13" class="nd gy"><ellipse cx="602" cy="543" rx="16" ry="8.5"/><text x="602" y="547">13</text></g>
<g id="n14" class="nd"><ellipse cx="695" cy="543" rx="16" ry="8.5"/><text x="695" y="547">14</text></g>
<g id="n15" class="nd"><ellipse cx="54" cy="467" rx="16" ry="8.5"/><text x="54" y="471">15</text></g>
<g id="n16" class="nd"><ellipse cx="145" cy="467" rx="16" ry="8.5"/><text x="145" y="471">16</text></g>
<g id="n17" class="nd"><ellipse cx="231" cy="474" rx="16" ry="8.5"/><text x="231" y="478">17</text></g>
<g id="n18" class="nd"><ellipse cx="342" cy="470" rx="16" ry="8.5"/><text x="342" y="474">18</text></g>
<g id="n19" class="nd gy"><ellipse cx="501" cy="466" rx="16" ry="8.5"/><text x="501" y="470">19</text></g>
<g id="n20" class="nd"><ellipse cx="592" cy="471" rx="16" ry="8.5"/><text x="592" y="475">20</text></g>
<g id="n21" class="nd"><ellipse cx="692" cy="476" rx="16" ry="8.5"/><text x="692" y="480">21</text></g>
<g id="n22" class="nd"><ellipse cx="52" cy="390" rx="16" ry="8.5"/><text x="52" y="394">22</text></g>
<g id="n23" class="nd yl"><ellipse cx="137" cy="395" rx="16" ry="8.5"/><text x="137" y="399">23</text></g>
<g id="n24" class="nd"><ellipse cx="227" cy="399" rx="16" ry="8.5"/><text x="227" y="403">24</text></g>
<g id="n25" class="nd"><ellipse cx="343" cy="402" rx="16" ry="8.5"/><text x="343" y="406">25</text></g>
<g id="n26" class="nd gy"><ellipse cx="497" cy="403" rx="16" ry="8.5"/><text x="497" y="407">26</text></g>
<g id="n27" class="nd"><ellipse cx="596" cy="399" rx="16" ry="8.5"/><text x="596" y="403">27</text></g>
<g id="n28" class="nd"><ellipse cx="692" cy="399" rx="16" ry="8.5"/><text x="692" y="403">28</text></g>
<g id="n29" class="nd"><ellipse cx="49" cy="273" rx="16" ry="8.5"/><text x="49" y="277">29</text></g>
<g id="n30" class="nd"><ellipse cx="133" cy="275" rx="16" ry="8.5"/><text x="133" y="279">30</text></g>
<g id="n31" class="nd"><ellipse cx="221" cy="279" rx="16" ry="8.5"/><text x="221" y="283">31</text></g>
<g id="n34" class="nd"><ellipse cx="598" cy="269" rx="16" ry="8.5"/><text x="598" y="273">34</text></g>
<g id="n35" class="nd"><ellipse cx="687" cy="270" rx="16" ry="8.5"/><text x="687" y="274">35</text></g>
<g id="n36" class="nd"><ellipse cx="47" cy="126" rx="16" ry="8.5"/><text x="47" y="130">36</text></g>
<g id="n37" class="nd gy"><ellipse cx="129" cy="126" rx="16" ry="8.5"/><text x="129" y="130">37</text></g>
<g id="n38" class="nd"><ellipse cx="219" cy="127" rx="16" ry="8.5"/><text x="219" y="131">38</text></g>
<g id="n39" class="nd"><ellipse cx="331" cy="124" rx="16" ry="8.5"/><text x="331" y="128">39</text></g>
<g id="n40" class="nd gy"><ellipse cx="482" cy="123" rx="16" ry="8.5"/><text x="482" y="127">40</text></g>
<g id="n41" class="nd"><ellipse cx="597" cy="122" rx="16" ry="8.5"/><text x="597" y="126">41</text></g>
<g id="n42" class="nd gy"><ellipse cx="687" cy="119" rx="16" ry="8.5"/><text x="687" y="123">42</text></g>
<g id="n43" class="nd"><ellipse cx="44" cy="36" rx="16" ry="8.5"/><text x="44" y="40">43</text></g>
<g id="n44" class="nd"><ellipse cx="133" cy="35" rx="16" ry="8.5"/><text x="133" y="39">44</text></g>
<g id="n45" class="nd"><ellipse cx="219" cy="36" rx="16" ry="8.5"/><text x="219" y="40">45</text></g>
<g id="n46" class="nd gy"><ellipse cx="332" cy="39" rx="16" ry="8.5"/><text x="332" y="43">46</text></g>
<g id="n47" class="nd"><ellipse cx="481" cy="42" rx="16" ry="8.5"/><text x="481" y="46">47</text></g>
<g id="n48" class="nd"><ellipse cx="596" cy="38" rx="16" ry="8.5"/><text x="596" y="42">48</text></g>
<g id="n49" class="nd"><ellipse cx="686" cy="39" rx="16" ry="8.5"/><text x="686" y="43">49</text></g>
<g id="nT1" class="nd cy"><ellipse cx="297" cy="251" rx="16" ry="9"/><text x="297" y="255">T1</text></g>
<g id="nT2" class="nd cy"><ellipse cx="383" cy="232" rx="16" ry="9"/><text x="383" y="236">T2</text></g>
<g id="nT3" class="nd cy"><ellipse cx="473" cy="204" rx="16" ry="9"/><text x="473" y="208">T3</text></g>
<g id="nT4" class="nd cy"><ellipse cx="368" cy="321" rx="16" ry="9"/><text x="368" y="325">T4</text></g>
<g id="nT5" class="nd cy"><ellipse cx="475" cy="301" rx="16" ry="9"/><text x="475" y="305">T5</text></g>
</g>
</svg>
